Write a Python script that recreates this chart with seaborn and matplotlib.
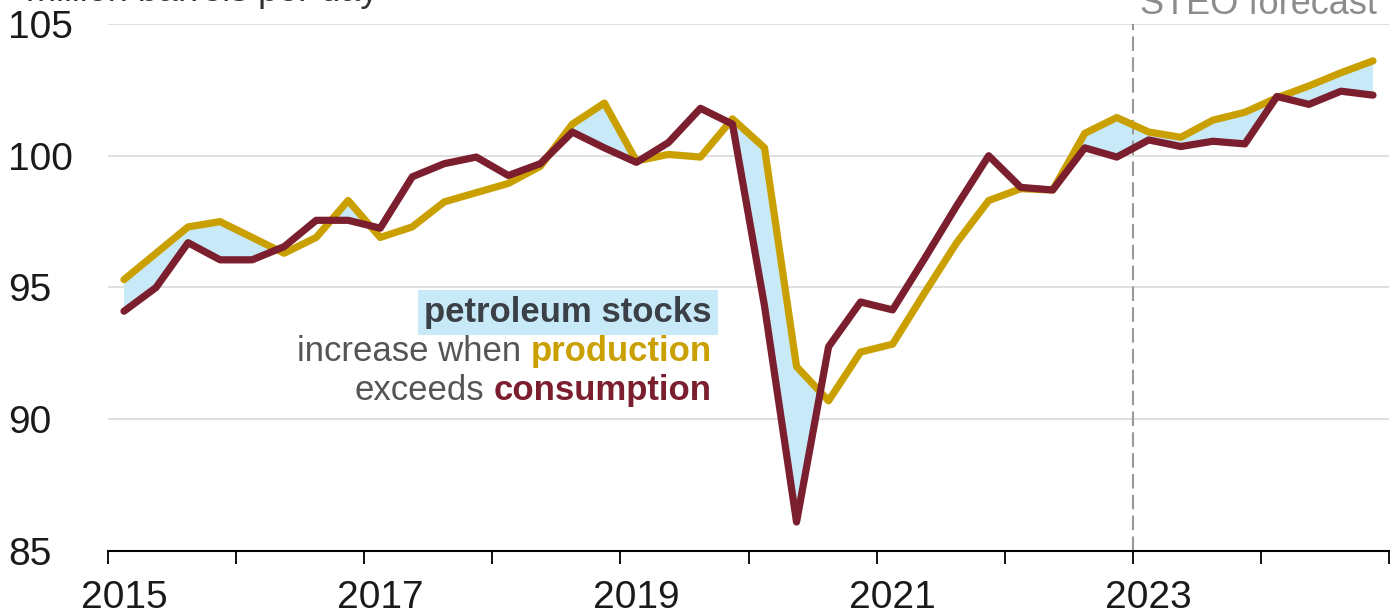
import matplotlib
matplotlib.use('Agg')
import matplotlib.pyplot as plt
from matplotlib.transforms import ScaledTranslation
import pandas as pd
import seaborn as sns

# quarterly world liquid fuels, million barrels per day
quarters = pd.period_range('2015Q1', '2024Q4', freq='Q')
production = [95.3, 96.3, 97.3, 97.5, 96.9, 96.3, 96.9, 98.3,
              96.9, 97.3, 98.25, 98.6, 98.95, 99.6, 101.2, 102.0,
              99.8, 100.05, 99.95, 101.4, 100.3, 92.0, 90.7, 92.55,
              92.85, 94.8, 96.7, 98.3, 98.75, 98.7, 100.85, 101.45,
              100.9, 100.7, 101.35, 101.65, 102.2, 102.65, 103.15, 103.6]
consumption = [94.1, 95.0, 96.7, 96.05, 96.05, 96.55, 97.55, 97.55,
               97.25, 99.2, 99.7, 99.95, 99.25, 99.7, 100.9, 100.3,
               99.75, 100.5, 101.8, 101.2, 94.3, 86.1, 92.75, 94.45,
               94.15, 96.1, 98.1, 100.0, 98.8, 98.7, 100.3, 99.95,
               100.6, 100.35, 100.55, 100.45, 102.25, 101.95, 102.45, 102.3]
year_ticks = [2015, 2017, 2019, 2021, 2023]
y_ticks = [85, 90, 95, 100, 105]
forecast_start = 2023

gold = '#c9a000'
maroon = '#7b1e2e'
blue = '#c8eaf8'

df = pd.DataFrame({
    'year': [q.year + (q.quarter - 1) * 0.25 + 0.125 for q in quarters],
    'production': production,
    'consumption': consumption,
})

sns.set_theme(style='white')
plt.rcParams['font.family'] = ['Liberation Sans', 'DejaVu Sans']

fig = plt.figure(figsize=(13.91, 6.14), dpi=100)
ax = fig.add_axes([108 / 1391, 63 / 614, 1281 / 1391, 527 / 614])

ax.fill_between(df.year, df.production, df.consumption,
                where=df.production >= df.consumption, interpolate=True,
                color=blue, linewidth=0, zorder=1)
sns.lineplot(data=df, x='year', y='production', color=gold, linewidth=5.2,
             solid_joinstyle='round', ax=ax, zorder=3)
sns.lineplot(data=df, x='year', y='consumption', color=maroon, linewidth=5.2,
             solid_joinstyle='round', ax=ax, zorder=4)
ax.axvline(forecast_start, color='#999999', lw=1.5, dashes=(7, 3), zorder=2)

ax.set_xlim(2015, 2025)
ax.set_ylim(85, 105)
ax.set_xlabel('')
ax.set_ylabel('')
ax.set_xticks(year_ticks)
ax.set_xticklabels([str(y) for y in year_ticks])
ax.set_xticks([2016, 2018, 2020, 2022, 2024, 2025], minor=True)
ax.set_yticks(y_ticks)
ax.set_yticklabels([str(v) for v in y_ticks])
ax.yaxis.grid(True, color='#d9d9d9', lw=1.2)
ax.xaxis.grid(False)
ax.set_axisbelow(True)

for side in ['left', 'right', 'top']:
    ax.spines[side].set_visible(False)
ax.spines['bottom'].set_color('black')
ax.spines['bottom'].set_linewidth(1.5)

ax.tick_params(axis='x', which='both', bottom=True, direction='out',
               length=9, width=1.3, color='black')
ax.tick_params(axis='x', labelsize=28, pad=12, labelcolor='#1a1a1a')
ax.tick_params(axis='y', length=0, labelsize=28, pad=72, labelcolor='#1a1a1a')
for lab in ax.get_yticklabels():
    lab.set_horizontalalignment('left')
shift = ScaledTranslation(0.16, 0, fig.dpi_scale_trans)
for lab in ax.get_xticklabels():
    lab.set_transform(lab.get_transform() + shift)

# annotation
ann_x = 2019.715
ax.text(ann_x, 93.69, 'petroleum stocks', ha='right', va='baseline',
        fontsize=25, fontweight='bold', color='#3b4046', zorder=5,
        bbox=dict(boxstyle='square,pad=0.18', fc=blue, ec='none'))
tp = ax.text(ann_x, 92.21, 'production', ha='right', va='baseline',
             fontsize=25, fontweight='bold', color=gold, zorder=5)
ax.annotate('increase when', xy=(0, 92.21), xycoords=(tp, 'data'),
            xytext=(-7, 0), textcoords='offset points',
            ha='right', va='baseline', fontsize=25, color='#555555')
tc = ax.text(ann_x, 90.73, 'consumption', ha='right', va='baseline',
             fontsize=25, fontweight='bold', color=maroon, zorder=5)
ax.annotate('exceeds', xy=(0, 90.73), xycoords=(tc, 'data'),
            xytext=(-7, 0), textcoords='offset points',
            ha='right', va='baseline', fontsize=25, color='#555555')

# header texts, cropped at the top edge as in the source image
fig.text(26 / 1391, 1 - 1 / 614, 'million barrels per day', ha='left',
         va='baseline', fontsize=26, color='#333333')
fig.text(1377 / 1391, 1 - 14 / 614, 'STEO forecast', ha='right',
         va='baseline', fontsize=26, color='#8c8c8c')

fig.savefig('out.png', dpi=100)
